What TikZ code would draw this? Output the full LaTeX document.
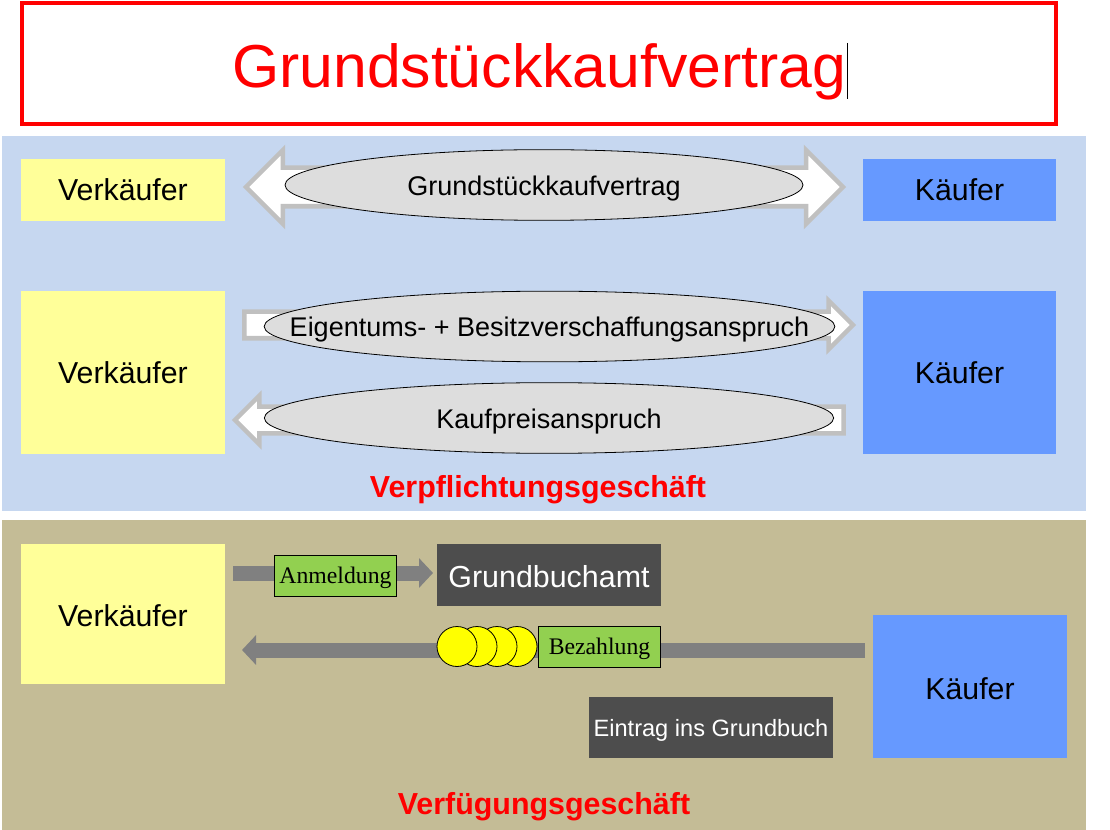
\documentclass[tikz,border=0pt]{standalone}
\usepackage{fontspec}
\setmainfont{Liberation Sans}
\newfontfamily\serifhead{Liberation Serif}
\usepackage{xcolor}
\usetikzlibrary{arrows.meta,positioning,shapes.geometric,shapes.arrows}

\definecolor{panelblue}{HTML}{C6D7F0}
\definecolor{panelsand}{HTML}{C4BC96}
\definecolor{sellercol}{HTML}{FFFF99}
\definecolor{buyercol}{HTML}{6699FF}
\definecolor{officecol}{HTML}{4D4D4D}
\definecolor{notecol}{HTML}{92D050}
\definecolor{ovalcol}{HTML}{DDDDDD}
\definecolor{hollowcol}{HTML}{C0C0C0}
\definecolor{shaftcol}{HTML}{808080}
\definecolor{coincol}{HTML}{FFFF00}

\tikzset{
  party/.style={rectangle,inner sep=0pt,outer sep=0pt,minimum width=#1,font=\fontsize{22.7}{26}\selectfont},
  seller/.style={party=153pt,fill=sellercol},
  buyer/.style={party=144.75pt,fill=buyercol},
  oval/.style={ellipse,draw=black,fill=ovalcol,line width=.6pt,inner ysep=0pt,inner xsep=-60pt,minimum height=53pt,text height=19.7pt,text depth=4.25pt,font=\fontsize{20.25}{24}\selectfont},
  hollow/.style={draw=hollowcol,fill=white,line width=3.4pt,inner xsep=0pt},
  office/.style={rectangle,fill=officecol,text=white,inner sep=0pt,outer sep=0pt},
  note/.style={rectangle,draw=black,fill=notecol,line width=.6pt,inner sep=0pt,minimum width=92pt,minimum height=30.75pt,text height=16.5pt,text depth=3.9pt,font=\serifhead\fontsize{17.8}{20}\selectfont},
  coin/.style={circle,draw=black,fill=coincol,line width=.6pt,inner sep=0pt,minimum size=30pt},
  shaft/.style={draw=shaftcol,line width=11.25pt,-{Triangle[length=10.5pt,width=21.75pt]}},
  headline/.style={text=red,font=\bfseries\fontsize{22.8}{26}\selectfont}
}

\begin{document}
\begin{tikzpicture}[x=.75pt,y=-.75pt]
  \useasboundingbox (0,0) rectangle (1110,830);

  % panels and title
  \fill[panelblue] (2,136) rectangle (1086,511);
  \fill[panelsand] (2,520) rectangle (1086,830);
  \node (title) [rectangle,draw=red,line width=2.6pt,inner sep=0pt,minimum width=775.5pt,minimum height=90.75pt,text=red,text height=46pt,text depth=9.5pt,font=\fontsize{45.5}{54}\selectfont] at (539,63.5) {Grundstückkaufvertrag};
  \draw[line width=.75pt] (847.5,43) -- (847.5,99);

  % upper part
  \node (vk1) [seller,minimum height=46.5pt] at (123,190) {Verkäufer};
  \node (kf1) [buyer,minimum height=46.5pt,right=478.5pt of vk1] {Käufer};
  \node (vk2) [seller,minimum height=122.25pt,below=52.5pt of vk1] {Verkäufer};
  \node (kf2) [buyer,minimum height=122.25pt,below=52.5pt of kf1] {Käufer};

  \node (both) [hollow,double arrow,inner ysep=12.75pt,minimum height=447.75pt,minimum width=52pt,double arrow head extend=13.25pt] at (544.5,187) {};
  \node (claim) [hollow,single arrow,inner ysep=8.25pt,minimum height=456.5pt,minimum width=33pt,single arrow head extend=8.25pt] at (542,325) {};
  \node (price) [hollow,single arrow,shape border rotate=180,inner ysep=8.25pt,minimum height=456.5pt,minimum width=33pt,single arrow head extend=8.25pt] at (546,420) {};

  \node (contract) [oval,minimum width=388.5pt] at (544,185) {Grundstückkaufvertrag};
  \node (ownership) [oval,minimum width=428pt] at (549.5,326.5) {Eigentums- + Besitzverschaffungsanspruch};
  \node (purchase) [oval,minimum width=427pt] at (549,418) {Kaufpreisanspruch};
  \node (duty) [headline] at (538,490) {Verpflichtungsgeschäft};

  % lower part
  \node (vk3) [seller,minimum height=105pt,text height=18.8pt] at (123,614) {Verkäufer};
  \node (kf3) [buyer,minimum width=145.5pt,minimum height=107.25pt,text height=20pt] at (970,686.5) {Käufer};
  \node (gba) [office,minimum width=168pt,minimum height=46.5pt,text height=18.5pt,font=\fontsize{22.8}{26}\selectfont] at (549,575) {Grundbuchamt};
  \node (entry) [office,minimum width=183pt,minimum height=45.75pt,text height=17.5pt,text depth=3.7pt,font=\fontsize{17.7}{22}\selectfont] at (711,727.5) {Eintrag ins Grundbuch};

  \coordinate (anmline) at (330,573);
  \coordinate (payline) at (545,650);
  \draw[shaft,shorten <=6pt,shorten >=3pt] (vk3.east |- anmline) -- (gba.west |- anmline);
  \draw[shaft,shorten <=6pt,shorten >=12.75pt] (kf3.west |- payline) -- (vk3.east |- payline);

  \node (anm) [note] at (335.5,575.5) {Anmeldung};
  \foreach \i/\xpos in {4/517,3/497,2/477,1/457}
    \node (coin\i) [coin] at (\xpos,646.5) {};
  \node (bez) [note] at (599.5,646.5) {Bezahlung};
  \node (transfer) [headline] at (544,807) {Verfügungsgeschäft};
\end{tikzpicture}
\end{document}
